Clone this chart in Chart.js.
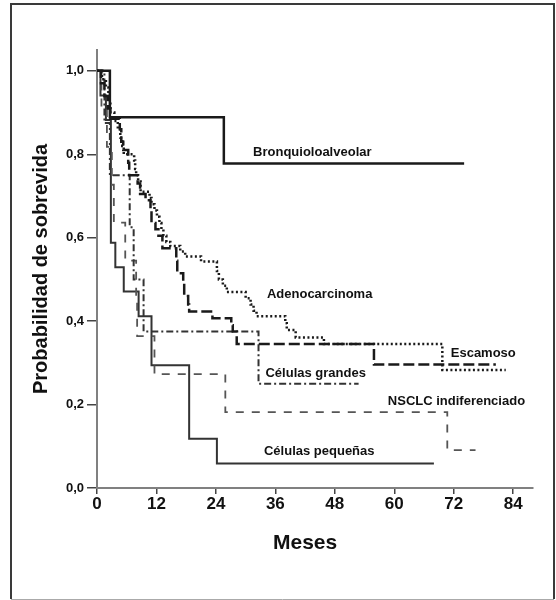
<!DOCTYPE html>
<html><head><meta charset="utf-8">
<script src="https://cdn.jsdelivr.net/npm/chart.js@4"></script>
<style>html,body{margin:0;padding:0;background:#fff}#wrap{width:556px;height:600px}</style>
</head><body><div id="wrap"><canvas id="c" width="556" height="600"></canvas></div>
<script>
// ---- data (months, survival probability) ----
const xTicks = [0, 12, 24, 36, 48, 60, 72, 84];
const yTicks = [0, 0.2, 0.4, 0.6, 0.8, 1.0];
const seriesNames = ['Bronquioloalveolar', 'Adenocarcinoma', 'Escamoso', 'Células grandes', 'NSCLC indiferenciado', 'Células pequeñas'];

const bronqT = [0, 2.6, 25.6, 74.1];
const bronqS = [1, 0.889, 0.778, 0.778];

const adenoT = [0, 1, 1.8, 2.3, 2.7, 3.5, 4.2, 4.7, 5.1, 5.4, 7.5, 7.7, 7.9, 8.3, 8.8, 10.6, 11.0, 11.6, 12.1, 12.6, 13.0, 13.4, 14.0, 14.8, 16.8, 17.8, 21.0, 24.2, 24.6, 25.4, 26.2, 30.0, 31.0, 31.6, 32.2, 38.0, 38.3, 40.1, 45.8, 69.7, 82.5];
const adenoS = [1, 0.98, 0.96, 0.93, 0.90, 0.88, 0.86, 0.84, 0.82, 0.80, 0.785, 0.765, 0.75, 0.735, 0.71, 0.695, 0.68, 0.665, 0.65, 0.635, 0.62, 0.605, 0.59, 0.58, 0.567, 0.555, 0.543, 0.52, 0.50, 0.485, 0.47, 0.455, 0.44, 0.425, 0.412, 0.395, 0.379, 0.361, 0.345, 0.283, 0.283];

const escamT = [0, 0.8, 1.5, 2.2, 2.7, 4.6, 4.9, 5.3, 6.3, 6.5, 8.2, 8.7, 9.8, 10.8, 11.0, 11.8, 12.4, 13.2, 16.0, 16.2, 17.4, 17.6, 18.4, 18.6, 23.3, 27.1, 27.4, 28.2, 55.9, 80.5];
const escamS = [1, 0.97, 0.94, 0.91, 0.885, 0.86, 0.83, 0.81, 0.78, 0.75, 0.73, 0.705, 0.69, 0.665, 0.635, 0.62, 0.605, 0.575, 0.545, 0.515, 0.49, 0.46, 0.44, 0.423, 0.407, 0.39, 0.375, 0.345, 0.296, 0.296];

const grandesT = [0, 1.5, 2.6, 6.6, 7.4, 9.4, 32.6, 52.8];
const grandesS = [1, 0.875, 0.75, 0.625, 0.5, 0.375, 0.25, 0.25];

const nsclcT = [0, 0.9, 2.0, 3.0, 3.4, 5.7, 7.9, 8.1, 11.6, 25.9, 70.7, 76.4];
const nsclcS = [1, 0.909, 0.818, 0.727, 0.636, 0.545, 0.455, 0.364, 0.273, 0.182, 0.091, 0.091];

const pequenasT = [0, 0.7, 1.8, 2.8, 3.7, 5.4, 8.4, 11.0, 18.6, 24.2, 68.0];
const pequenasS = [1, 0.941, 0.882, 0.588, 0.529, 0.471, 0.412, 0.294, 0.118, 0.059, 0.059];

// ---- presentation ----
const labelAnchors = [[31.5, 0.805], [34.3, 0.463], [71.4, 0.323], [34.0, 0.275], [58.7, 0.207], [33.7, 0.087]];
const styles = [
  {color: '#1a1a1a', width: 2.5, dash: []},
  {color: '#1a1a1a', width: 2.5, dash: [2, 2.5]},
  {color: '#1a1a1a', width: 2.5, dash: [11, 4]},
  {color: '#333333', width: 2, dash: [7, 3, 2, 3]},
  {color: '#555555', width: 1.8, dash: [8, 8]},
  {color: '#333333', width: 2, dash: []}
];
const allT = [bronqT, adenoT, escamT, grandesT, nsclcT, pequenasT];
const allS = [bronqS, adenoS, escamS, grandesS, nsclcS, pequenasS];

const datasets = seriesNames.map((n, i) => ({
  label: n,
  data: allT[i].map((t, k) => ({x: t, y: allS[i][k]})),
  borderColor: styles[i].color,
  borderWidth: styles[i].width,
  borderDash: styles[i].dash,
  stepped: 'before',
  pointRadius: 0,
  fill: false
}));

const SANS = '"Liberation Sans", Arial, sans-serif';
const NARROW = '"Liberation Sans Narrow", "Arial Narrow", "Liberation Sans", sans-serif';

const annot = {
  id: 'annot',
  beforeDraw(chart) {
    const c = chart.ctx;
    c.save();
    c.fillStyle = '#fff'; c.fillRect(0, 0, 556, 600);
    c.strokeStyle = '#3a3a3a'; c.lineWidth = 2;
    c.beginPath();
    c.moveTo(11, 599); c.lineTo(11, 4); c.lineTo(554, 4); c.lineTo(554, 599);
    c.stroke();
    c.strokeStyle = '#aaaaaa'; c.lineWidth = 1;
    c.beginPath(); c.moveTo(11, 599.5); c.lineTo(554, 599.5); c.stroke();
    c.restore();
  },
  afterDraw(chart) {
    const c = chart.ctx, xs = chart.scales.x, ys = chart.scales.y;
    c.save();
    c.fillStyle = '#111';
    c.font = 'bold 13px ' + SANS;
    c.textAlign = 'left'; c.textBaseline = 'middle';
    seriesNames.forEach((n, i) => {
      c.fillText(n, xs.getPixelForValue(labelAnchors[i][0]), ys.getPixelForValue(labelAnchors[i][1]));
    });
    c.font = 'bold 21px ' + SANS;
    c.textAlign = 'center';
    c.fillText('Meses', xs.getPixelForValue(42), 543);
    c.restore();
  }
};

new Chart(document.getElementById('c'), {
  type: 'line',
  data: {datasets},
  plugins: [annot],
  options: {
    responsive: false,
    animation: false,
    layout: {padding: {left: 0, top: 50, right: 23, bottom: 0}},
    plugins: {legend: {display: false}, tooltip: {enabled: false}},
    scales: {
      x: {
        type: 'linear', min: 0, max: 88,
        afterFit: s => { s.height = 112; },
        afterBuildTicks: s => { s.ticks = xTicks.map(v => ({value: v})); },
        ticks: {color: '#111', font: {family: NARROW, size: 17, weight: 'bold'}, padding: 0, maxRotation: 0, autoSkip: false},
        grid: {drawOnChartArea: false, drawTicks: true, tickLength: 6, color: '#444', lineWidth: 1.5},
        border: {display: true, color: '#808080', width: 2}
      },
      y: {
        type: 'linear', min: 0, max: 1.05,
        afterFit: s => { s.width = 97; },
        afterBuildTicks: s => { s.ticks = yTicks.map(v => ({value: v})); },
        ticks: {color: '#111', font: {family: SANS, size: 13, weight: 'bold'}, padding: 3,
                callback: v => v.toFixed(1).replace('.', ',')},
        grid: {drawOnChartArea: false, drawTicks: true, tickLength: 10, color: '#444', lineWidth: 1.5},
        border: {display: true, color: '#808080', width: 2},
        title: {display: true, text: 'Probabilidad de sobrevida', color: '#111',
                font: {family: SANS, size: 20, weight: 'bold'}, padding: {top: 29, bottom: 0}}
      }
    }
  }
});
</script>
</body></html>
